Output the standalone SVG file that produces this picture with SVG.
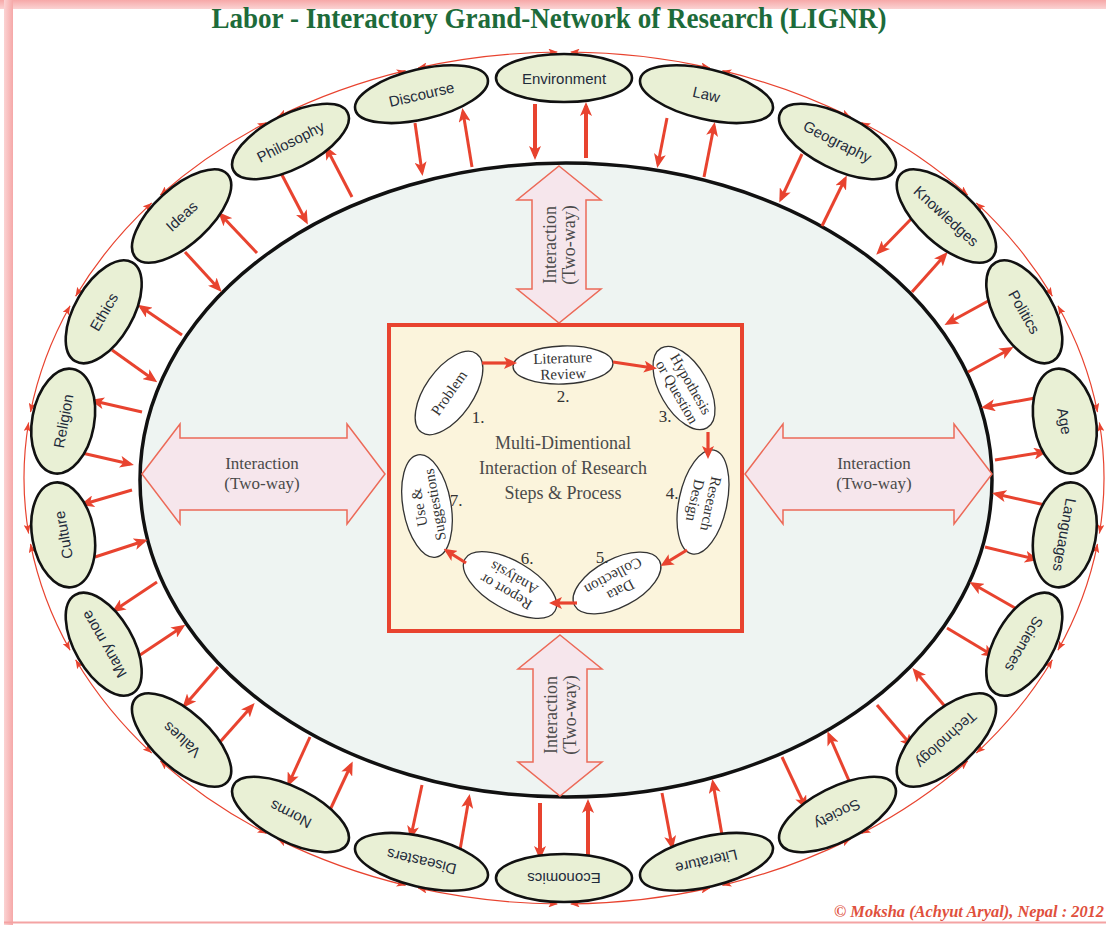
<svg xmlns="http://www.w3.org/2000/svg" width="1106" height="925" viewBox="0 0 1106 925">
  <style>
    .title { font-family: "Liberation Serif", "Times New Roman", serif; font-weight: bold; font-size: 30px; fill: #1d6b3a; }
    .node ellipse { fill: #e9f0d5; stroke: #111; stroke-width: 2.6; }
    .node text { font-family: "Liberation Sans", Arial, sans-serif; font-size: 15px; fill: #1f2b3b; text-anchor: middle; dominant-baseline: central; }
    .radial { fill: none; stroke: #e8432f; stroke-width: 3; marker-end: url(#head); }
    .radial.thick { stroke-width: 4; }
    .ring { fill: none; stroke: #e8432f; stroke-width: 1.2; marker-start: url(#ringHead); marker-end: url(#ringHead); }
    .block { fill: #f6e6ec; stroke: #ec6a58; stroke-width: 1.5; }
    .serif { font-family: "Liberation Serif", "Times New Roman", serif; fill: #4a4a4a; text-anchor: middle; }
    .step ellipse { fill: #ffffff; stroke: #333; stroke-width: 1.3; }
    .step text { font-family: "Liberation Serif", "Times New Roman", serif; font-size: 15px; fill: #333; text-anchor: middle; }
    .num { font-family: "Liberation Serif", "Times New Roman", serif; font-size: 17px; fill: #333; text-anchor: middle; }
    .flow { fill: none; stroke: #e8432f; stroke-width: 3.2; marker-end: url(#stepHead); }
  </style>
  <defs>
    <marker id="head" markerUnits="userSpaceOnUse" markerWidth="14" markerHeight="12" refX="10" refY="6" orient="auto">
      <path d="M0,0 L14,6 L0,12 L3.5,6 Z" fill="#e8432f"/>
    </marker>
    <marker id="stepHead" markerUnits="userSpaceOnUse" markerWidth="13" markerHeight="12" refX="9" refY="6" orient="auto">
      <path d="M0,0 L13,6 L0,12 L3,6 Z" fill="#e8432f"/>
    </marker>
    <marker id="ringHead" markerUnits="userSpaceOnUse" markerWidth="9" markerHeight="7" refX="9" refY="3.5" orient="auto-start-reverse">
      <path d="M0,0 L9,3.5 L0,7 L2,3.5 Z" fill="#e8432f"/>
    </marker>
    <linearGradient id="bandTop" x1="0" y1="0" x2="0" y2="1">
      <stop offset="0" stop-color="#f6a8a8"/>
      <stop offset="1" stop-color="#fbd3d3"/>
    </linearGradient>
    <linearGradient id="bandLeft" x1="0" y1="0" x2="1" y2="0">
      <stop offset="0" stop-color="#fbd3d3"/>
      <stop offset="1" stop-color="#f6a8a8"/>
    </linearGradient>
  </defs>

  <!-- page frame -->
  <rect width="1106" height="925" fill="#ffffff"/>
  <g id="frame">
    <rect x="0" y="0" width="1106" height="9" fill="url(#bandTop)"/>
    <rect x="4" y="0" width="9" height="925" fill="url(#bandLeft)"/>
    <line x1="4" y1="922.5" x2="1106" y2="922.5" stroke="#f4a3a3" stroke-width="2"/>
  </g>

  <text class="title" x="549" y="28" text-anchor="middle" textLength="675" lengthAdjust="spacingAndGlyphs">Labor - Interactory Grand-Network of Research (LIGNR)</text>

  <!-- central field -->
  <g id="core-field">
    <ellipse cx="566" cy="480" rx="426" ry="317" fill="#eef4f2" stroke="#111" stroke-width="3.5"/>
  </g>

  <!-- two-way block arrows -->
  <g id="interaction-left">
    <polygon class="block" points="142,474 180,424 180,438 347,438 347,424 385,474 347,524 347,510 180,510 180,524"/>
    <text class="serif" font-size="17" x="262" y="469">Interaction</text>
    <text class="serif" font-size="17" x="262" y="489">(Two-way)</text>
  </g>
  <g id="interaction-right">
    <polygon class="block" points="745,474 783,424 783,438 954,438 954,424 992,474 954,524 954,510 783,510 783,524"/>
    <text class="serif" font-size="17" x="874" y="469">Interaction</text>
    <text class="serif" font-size="17" x="874" y="489">(Two-way)</text>
  </g>
  <g id="interaction-top">
    <polygon class="block" points="559,166 601,200 586,200 586,289 601,289 559,323 517,289 532,289 532,200 517,200"/>
    <g transform="translate(559,245) rotate(-90)">
      <text class="serif" font-size="18" x="0" y="-3" fill="#333">Interaction</text>
      <text class="serif" font-size="18" x="0" y="16" fill="#333">(Two-way)</text>
    </g>
  </g>
  <g id="interaction-bottom">
    <polygon class="block" points="560,635 602,669 587,669 587,762 602,762 560,796 518,762 533,762 533,669 518,669"/>
    <g transform="translate(560,715) rotate(-90)">
      <text class="serif" font-size="18" x="0" y="-3" fill="#333">Interaction</text>
      <text class="serif" font-size="18" x="0" y="16" fill="#333">(Two-way)</text>
    </g>
  </g>

  <!-- research process panel -->
  <g id="process-panel">
    <rect x="389" y="325" width="353" height="306" fill="#fbf4dc" stroke="#e8432f" stroke-width="4"/>
    <text class="serif" font-size="18" x="563" y="449">Multi-Dimentional</text>
    <text class="serif" font-size="18" x="563" y="474">Interaction of Research</text>
    <text class="serif" font-size="18" x="563" y="499">Steps &amp; Process</text>
  </g>

  <g id="step-problem" class="step" transform="translate(449,393) rotate(-55)">
    <ellipse rx="48" ry="24"/>
    <text y="5">Problem</text>
  </g>
  <g id="step-literature" class="step" transform="translate(563,365) rotate(-2)">
    <ellipse rx="50" ry="19"/>
    <text y="-2">Literature</text>
    <text y="14">Review</text>
  </g>
  <g id="step-hypothesis" class="step" transform="translate(684,388) rotate(60)">
    <ellipse rx="46" ry="24"/>
    <text y="-3">Hypothesis</text>
    <text y="13">or Question</text>
  </g>
  <g id="step-design" class="step" transform="translate(703,502) rotate(102)">
    <ellipse rx="53" ry="24"/>
    <text y="-3">Research</text>
    <text y="13">Design</text>
  </g>
  <g id="step-data" class="step" transform="translate(617,583) rotate(152)">
    <ellipse rx="48" ry="24"/>
    <text y="-3">Data</text>
    <text y="13">Collection</text>
  </g>
  <g id="step-report" class="step" transform="translate(510,585) rotate(210)">
    <ellipse rx="52" ry="24"/>
    <text y="-3">Report or</text>
    <text y="13">Analysis</text>
  </g>
  <g id="step-use" class="step" transform="translate(427,506) rotate(-100)">
    <ellipse rx="52" ry="24"/>
    <text y="-3">Use &amp;</text>
    <text y="13">Suggestions</text>
  </g>

  <g id="step-numbers">
    <text class="num" x="478" y="423">1.</text>
    <text class="num" x="563" y="402">2.</text>
    <text class="num" x="665" y="422">3.</text>
    <text class="num" x="672" y="499">4.</text>
    <text class="num" x="602" y="563">5.</text>
    <text class="num" x="527" y="564">6.</text>
    <text class="num" x="456" y="506">7.</text>
  </g>

  <g id="process-flow">
    <path class="flow" d="M482,363 L513,363" stroke-width="5"/>
    <path class="flow" d="M613,362 L653,368"/>
    <path class="flow" d="M708,432 L708,455"/>
    <path class="flow" d="M687,550 L664,564" stroke-width="3.6"/>
    <path class="flow" d="M577,603 L553,603" stroke-width="5"/>
    <path class="flow" d="M466,563 L447,551" stroke-width="3.6"/>
  </g>

  <!-- connectors between the field and the surrounding domains -->
  <g id="connectors">
    <path class="radial thick" d="M535,104 L535,156"/>
    <path class="radial thick" d="M586,158 L586,106"/>
    <path class="radial" d="M667,118 L658,164"/>
    <path class="radial" d="M704,177 L714,126"/>
    <path class="radial" d="M802,154 L781,199"/>
    <path class="radial" d="M822,226 L845,179"/>
    <path class="radial" d="M912,218 L879,252"/>
    <path class="radial" d="M912,292 L945,255"/>
    <path class="radial" d="M990,300 L948,323"/>
    <path class="radial" d="M968,372 L1010,349"/>
    <path class="radial" d="M1035,398 L985,407"/>
    <path class="radial" d="M995,460 L1044,452"/>
    <path class="radial" d="M1045,505 L996,494"/>
    <path class="radial" d="M985,547 L1035,559"/>
    <path class="radial" d="M1015,608 L973,584"/>
    <path class="radial" d="M947,628 L992,655"/>
    <path class="radial" d="M948,710 L915,671"/>
    <path class="radial" d="M877,705 L911,745"/>
    <path class="radial" d="M850,783 L829,735"/>
    <path class="radial" d="M782,757 L805,806"/>
    <path class="radial" d="M722,835 L713,783"/>
    <path class="radial" d="M662,793 L672,846"/>
    <path class="radial thick" d="M588,857 L588,803"/>
    <path class="radial thick" d="M540,803 L540,856"/>
    <path class="radial" d="M460,850 L469,798"/>
    <path class="radial" d="M422,785 L411,836"/>
    <path class="radial" d="M330,810 L351,765"/>
    <path class="radial" d="M310,737 L289,783"/>
    <path class="radial" d="M220,742 L252,706"/>
    <path class="radial" d="M218,667 L185,705"/>
    <path class="radial" d="M140,655 L182,627"/>
    <path class="radial" d="M157,582 L115,610"/>
    <path class="radial" d="M95,557 L144,541"/>
    <path class="radial" d="M132,490 L84,504"/>
    <path class="radial" d="M82,453 L130,464"/>
    <path class="radial" d="M142,412 L94,401"/>
    <path class="radial" d="M112,350 L154,380"/>
    <path class="radial" d="M182,335 L141,307"/>
    <path class="radial" d="M185,252 L219,289"/>
    <path class="radial" d="M257,253 L221,215"/>
    <path class="radial" d="M282,175 L306,221"/>
    <path class="radial" d="M352,197 L327,149"/>
    <path class="radial" d="M415,123 L422,172"/>
    <path class="radial" d="M472,167 L463,112"/>

    <!-- outer ring linking neighbouring domains -->
    <path class="ring" d="M570.6,52 A540,426 0 0,1 709.8,67.8"/>
    <path class="ring" d="M722.4,70.7 A540,426 0 0,1 850.5,116.9"/>
    <path class="ring" d="M861.5,122.5 A540,426 0 0,1 967.7,195"/>
    <path class="ring" d="M976.3,202.9 A540,426 0 0,1 1052.4,296.3"/>
    <path class="ring" d="M1057.9,305.8 A540,426 0 0,1 1097.5,412.2"/>
    <path class="ring" d="M1099.4,422.5 A540,426 0 0,1 1099.4,533.5"/>
    <path class="ring" d="M1097.5,543.8 A540,426 0 0,1 1057.9,650.2"/>
    <path class="ring" d="M1052.4,659.7 A540,426 0 0,1 976.3,753.1"/>
    <path class="ring" d="M967.7,761 A540,426 0 0,1 861.5,833.5"/>
    <path class="ring" d="M850.5,839.1 A540,426 0 0,1 722.4,885.3"/>
    <path class="ring" d="M709.8,888.2 A540,426 0 0,1 570.6,904"/>
    <path class="ring" d="M557.4,904 A540,426 0 0,1 418.2,888.2"/>
    <path class="ring" d="M405.6,885.3 A540,426 0 0,1 277.5,839.1"/>
    <path class="ring" d="M266.5,833.5 A540,426 0 0,1 160.3,761"/>
    <path class="ring" d="M151.7,753.1 A540,426 0 0,1 75.6,659.7"/>
    <path class="ring" d="M70.1,650.2 A540,426 0 0,1 30.5,543.8"/>
    <path class="ring" d="M28.6,533.5 A540,426 0 0,1 28.6,422.5"/>
    <path class="ring" d="M30.5,412.2 A540,426 0 0,1 70.1,305.8"/>
    <path class="ring" d="M75.6,296.3 A540,426 0 0,1 151.7,202.9"/>
    <path class="ring" d="M160.3,195 A540,426 0 0,1 266.5,122.5"/>
    <path class="ring" d="M277.5,116.9 A540,426 0 0,1 405.6,70.7"/>
    <path class="ring" d="M418.2,67.8 A540,426 0 0,1 557.4,52"/>
  </g>

  <!-- surrounding domains -->
  <g id="n-environment" class="node" transform="translate(564,78) rotate(0)"><ellipse rx="68" ry="24"/><text>Environment</text></g>
  <g id="n-law" class="node" transform="translate(706.5,94.2) rotate(13.1)"><ellipse rx="68" ry="25"/><text>Law</text></g>
  <g id="n-geography" class="node" transform="translate(837.5,141.5) rotate(26.9)"><ellipse rx="64" ry="27"/><text>Geography</text></g>
  <g id="n-knowledges" class="node" transform="translate(946.4,216) rotate(42.4)"><ellipse rx="62" ry="28"/><text>Knowledges</text></g>
  <g id="n-politics" class="node" transform="translate(1024.3,311.8) rotate(60)"><ellipse rx="57" ry="29"/><text>Politics</text></g>
  <g id="n-age" class="node" transform="translate(1064.8,421.1) rotate(79.7)"><ellipse rx="53" ry="31"/><text>Age</text></g>
  <g id="n-languages" class="node" transform="translate(1064.8,534.9) rotate(100.3)"><ellipse rx="53" ry="31"/><text>Languages</text></g>
  <g id="n-sciences" class="node" transform="translate(1024.3,644.2) rotate(120)"><ellipse rx="57" ry="29"/><text>Sciences</text></g>
  <g id="n-technology" class="node" transform="translate(946.4,740) rotate(137.6)"><ellipse rx="62" ry="28"/><text>Technology</text></g>
  <g id="n-society" class="node" transform="translate(837.5,814.5) rotate(153.1)"><ellipse rx="64" ry="27"/><text>Society</text></g>
  <g id="n-literature" class="node" transform="translate(706.5,861.8) rotate(166.9)"><ellipse rx="68" ry="25"/><text>Literature</text></g>
  <g id="n-economics" class="node" transform="translate(564,878) rotate(180)"><ellipse rx="68" ry="24"/><text>Economics</text></g>
  <g id="n-diseasters" class="node" transform="translate(421.5,861.8) rotate(193.1)"><ellipse rx="68" ry="25"/><text>Diseasters</text></g>
  <g id="n-norms" class="node" transform="translate(290.5,814.5) rotate(206.9)"><ellipse rx="64" ry="27"/><text>Norms</text></g>
  <g id="n-values" class="node" transform="translate(181.6,740) rotate(222.4)"><ellipse rx="62" ry="28"/><text>Values</text></g>
  <g id="n-many-more" class="node" transform="translate(103.7,644.2) rotate(240)"><ellipse rx="57" ry="29"/><text>Many more</text></g>
  <g id="n-culture" class="node" transform="translate(63.2,534.9) rotate(259.7)"><ellipse rx="53" ry="31"/><text>Culture</text></g>
  <g id="n-religion" class="node" transform="translate(63.2,421.1) rotate(280.3)"><ellipse rx="53" ry="31"/><text>Religion</text></g>
  <g id="n-ethics" class="node" transform="translate(103.7,311.8) rotate(300)"><ellipse rx="57" ry="29"/><text>Ethics</text></g>
  <g id="n-ideas" class="node" transform="translate(181.6,216) rotate(317.6)"><ellipse rx="62" ry="28"/><text>Ideas</text></g>
  <g id="n-philosophy" class="node" transform="translate(290.5,141.5) rotate(333.1)"><ellipse rx="64" ry="27"/><text>Philosophy</text></g>
  <g id="n-discourse" class="node" transform="translate(421.5,94.2) rotate(346.9)"><ellipse rx="68" ry="25"/><text>Discourse</text></g>

  <text x="1104" y="917" text-anchor="end" font-family="'Liberation Serif', 'Times New Roman', serif" font-style="italic" font-weight="bold" font-size="16" textLength="270" lengthAdjust="spacingAndGlyphs" fill="#e0503c">© Moksha (Achyut Aryal), Nepal : 2012</text>
</svg>
